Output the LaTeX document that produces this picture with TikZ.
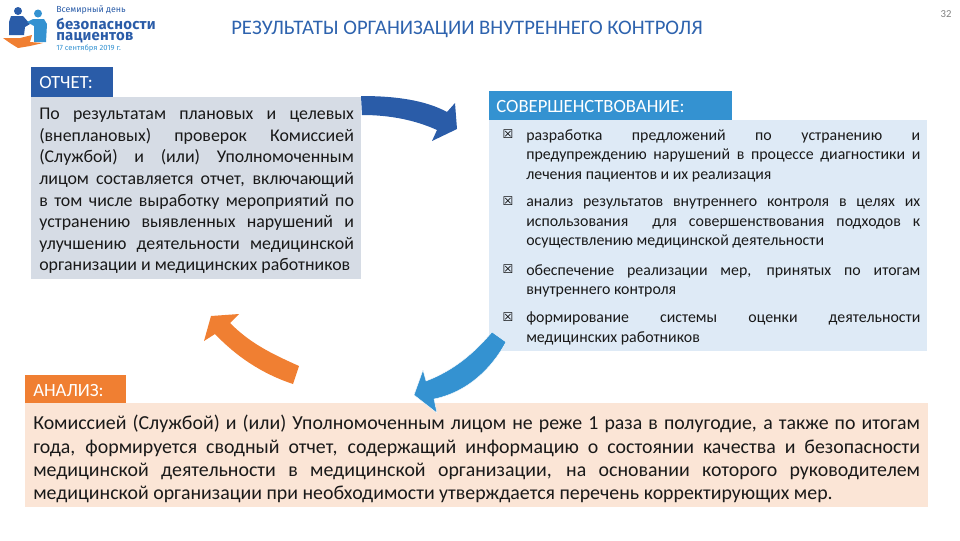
\documentclass[tikz,border=0pt]{standalone}
\usepackage{fontspec}
\setmainfont{Carlito}
\newfontfamily\symfont{DejaVu Sans}
\newfontfamily\logofont{Fira Sans}
\definecolor{darkblue}{HTML}{2A5CA8}
\definecolor{midblue}{HTML}{3492D1}
\definecolor{orangeA}{HTML}{F07F32}
\definecolor{greybox}{HTML}{D6DCE5}
\definecolor{bluebox}{HTML}{DEEAF6}
\definecolor{peachbox}{HTML}{FBE5D6}
\definecolor{titleblue}{HTML}{2E63AE}
\tikzset{
  headbox/.style={anchor=north west,inner sep=0pt,text=white,font=\fontsize{14}{16}\selectfont,align=left},
  bodytext/.style={anchor=north west,inner sep=0pt,align=justify,text=black!90},
  itemtext/.style={bodytext,text width=295.5pt,font=\fontsize{11.9}{14.6}\selectfont},
  boxmark/.style={anchor=center,inner sep=0pt,font=\symfont\fontsize{9}{9}\selectfont},
  logotext/.style={anchor=west,inner sep=0pt,font=\logofont}
}
\begin{document}
\begin{tikzpicture}[x=0.75pt,y=-0.75pt]
        \useasboundingbox (0,0) rectangle (960,540);
        % logo
        \fill[darkblue] (18,11) circle (4);
        \fill[darkblue] (11,16)--(23,16)--(30,24)--(25,27)--(24,35)--(9,35)--(9,22)--cycle;
        \fill[midblue] (38,13.5) circle (4);
        \fill[midblue] (33,19)--(44,19)--(47,24)--(46,42)--(34,42)--(34,26)--(27,22)--cycle;
        \fill[orangeA] (3,38)--(20,38)--(32,35)--(30,42)--(43,43)--(30,46)--(18,48)--(10,43)--cycle;
        \node[logotext,text=darkblue,font=\logofont\fontsize{6.6}{7}\selectfont] (logoA) at (56,10.5) {Всемирный день};
        \node[logotext,text=darkblue,font=\logofont\bfseries\fontsize{11.2}{12}\addfontfeature{LetterSpace=1.5}\selectfont] (logoB) at (56,24) {безопасности};
        \node[logotext,text=darkblue,font=\logofont\bfseries\fontsize{11.2}{12}\addfontfeature{LetterSpace=1.5}\selectfont] (logoC) at (56,37.5) {пациентов};
        \node[logotext,text=midblue,font=\logofont\fontsize{5.7}{7}\selectfont] (logoD) at (56,48.5) {17 сентября 2019 г.};
        % title
        \node[inner sep=0pt,text=titleblue,font=\fontsize{15.5}{18}\selectfont] (title) at (467,29) {РЕЗУЛЬТАТЫ ОРГАНИЗАЦИИ ВНУТРЕННЕГО КОНТРОЛЯ};
        \node[inner sep=0pt,text=black!50,font=\fontsize{8}{10}\selectfont] (pagenum) at (946,14) {32};
        % boxes
        \fill[greybox] (31,97) rectangle (361,279);
        \fill[darkblue] (31,67) rectangle (113,97);
        \fill[bluebox] (489,120) rectangle (927,351);
        \fill[midblue] (489,91) rectangle (732,120);
        \fill[peachbox] (25,403) rectangle (928,507);
        \fill[orangeA] (25,375) rectangle (126,403);
        % arrows
        \fill[darkblue] (361,96) .. controls (395,96) and (425,100) .. (447,112)--(455,103)--(457,129)--(432,141)--(437,130)
          .. controls (415,120) and (390,115) .. (362,115)--cycle;
        \fill[orangeA] (299,366) .. controls (270,353) and (250,343) .. (230,323)--(239,314)--(211,316)--(204,341)--(215,334)
          .. controls (235,355) and (260,373) .. (293,384)--cycle;
        \fill[midblue,draw=white,line width=.3pt] (492,332) .. controls (475,352) and (455,370) .. (426,381)--(423,370)--(414,395)--(437,413)--(434,399)
          .. controls (468,392) and (492,368) .. (506,342)--cycle;
        % headers
        \node[headbox] (otchetH) at (39,76) {ОТЧЕТ:};
        \node[headbox] (sovershH) at (496,100) {СОВЕРШЕНСТВОВАНИЕ:};
        \node[headbox] (analizH) at (33,384) {АНАЛИЗ:};
        % body
        \node[bodytext,text width=236pt,font=\fontsize{13.4}{16.2}\selectfont] (otchetT) at (39,108) {По результатам плановых и целевых\linebreak
          (внеплановых) проверок Комиссией\linebreak
          (Службой) и (или) Уполномоченным\linebreak
          лицом составляется отчет, включающий\linebreak
          в том числе выработку мероприятий по\linebreak
          устранению выявленных нарушений и\linebreak
          улучшению деятельности медицинской\linebreak
          организации и медицинских работников};
        \node[boxmark] (markA) at (508,134) {☒};
        \node[itemtext] (itemA) at (526,129) {разработка предложений по устранению и\linebreak
          предупреждению нарушений в процессе диагностики и\linebreak
          лечения пациентов и их реализация};
        \node[boxmark] (markB) at (508,201) {☒};
        \node[itemtext] (itemB) at (526,199) {анализ результатов внутреннего контроля в целях их\linebreak
          использования \ для совершенствования подходов к\linebreak
          осуществлению медицинской деятельности};
        \node[boxmark] (markC) at (508,269) {☒};
        \node[itemtext] (itemC) at (526,264) {обеспечение реализации мер, принятых по итогам\linebreak
          внутреннего контроля};
        \node[boxmark] (markD) at (508,317) {☒};
        \node[itemtext] (itemD) at (526,312) {формирование системы оценки деятельности\linebreak
          медицинских работников};
        \node[bodytext,text width=665pt,font=\fontsize{14.9}{17.4}\selectfont] (analizT) at (33,415) {Комиссией (Службой) и (или) Уполномоченным лицом не реже 1 раза в полугодие, а также по итогам\linebreak
          года, формируется сводный отчет, содержащий информацию о состоянии качества и безопасности\linebreak
          медицинской деятельности в медицинской организации, на основании которого руководителем\linebreak
          медицинской организации при необходимости утверждается перечень корректирующих мер.};
\end{tikzpicture}
\end{document}
